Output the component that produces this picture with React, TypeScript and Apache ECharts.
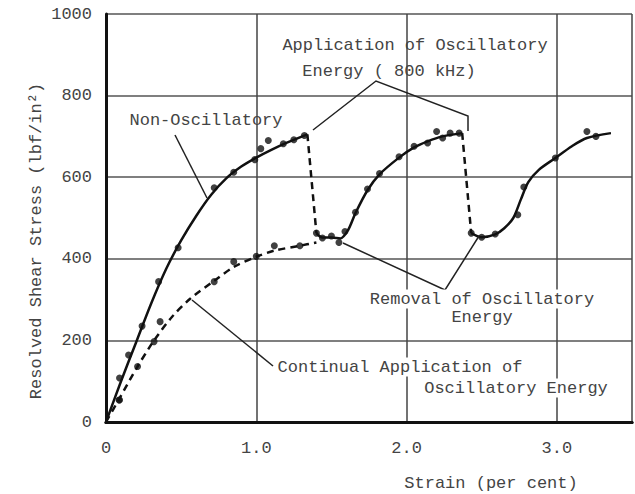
import React, { useEffect, useRef } from "react";
import * as echarts from "echarts";

// Non-oscillatory loading curve (strain %, stress lbf/in^2)
const nonOscCurve = [
  [0, 0], [0.1, 100], [0.2, 195], [0.3, 290], [0.4, 375], [0.5, 445], [0.6, 505], [0.7, 557],
  [0.8, 597], [0.9, 626], [1.0, 648], [1.1, 667], [1.2, 684], [1.34, 705],
];
const nonOscPoints = [
  [0.087, 54], [0.09, 108], [0.15, 164], [0.24, 235], [0.35, 344], [0.48, 427], [0.72, 574],
  [0.85, 612], [0.99, 643], [1.03, 670], [1.08, 690], [1.18, 682], [1.25, 692], [1.32, 702],
];
// Drop when oscillatory energy applied
const drop1 = [[1.34, 705], [1.4, 463]];
// Recovery after removal of energy (first)
const recovery1Curve = [
  [1.4, 463], [1.44, 452], [1.5, 452], [1.56, 450], [1.61, 470], [1.66, 512], [1.74, 568],
  [1.82, 607], [1.95, 648], [2.05, 673], [2.14, 688], [2.24, 700], [2.37, 708],
];
const recovery1Points = [
  [1.4, 463], [1.44, 451], [1.5, 456], [1.55, 440], [1.59, 467], [1.66, 514], [1.74, 571],
  [1.82, 609], [1.95, 650], [2.05, 676], [2.14, 684], [2.2, 712], [2.24, 696], [2.29, 708], [2.35, 708],
];
const drop2 = [[2.37, 708], [2.43, 463]];
const recovery2Curve = [
  [2.43, 463], [2.5, 453], [2.59, 460], [2.65, 475], [2.71, 500], [2.76, 545], [2.81, 588],
  [2.88, 618], [2.99, 647], [3.1, 676], [3.2, 696], [3.36, 708],
];
const recovery2Points = [
  [2.43, 463], [2.5, 453], [2.59, 461], [2.74, 508], [2.78, 576], [2.99, 647], [3.2, 712], [3.26, 700],
];
// Continual application of oscillatory energy
const continualCurve = [
  [0, 0], [0.09, 58], [0.21, 136], [0.32, 200], [0.44, 258], [0.56, 302], [0.72, 346],
  [0.85, 380], [1.0, 405], [1.12, 420], [1.29, 432], [1.4, 440],
];
const continualPoints = [
  [0.09, 54], [0.21, 136], [0.32, 197], [0.36, 246], [0.72, 344], [0.85, 393], [1.0, 406], [1.12, 432], [1.29, 432],
];

const yTicks = [0, 200, 400, 600, 800, 1000];
const xTickLabels = ["0", "1.0", "2.0", "3.0"];

const FONT = '"Liberation Mono", "DejaVu Sans Mono", monospace';
const INK = "#111";
const TXT = "#444";

export default function App() {
  const ref = useRef<HTMLDivElement>(null);
  useEffect(() => {
    if (!ref.current) return;
    const chart = echarts.init(ref.current, null, { renderer: "svg" });
    const solid = (data: number[][]) => ({
      type: "line", data, smooth: 0.3, showSymbol: false, symbol: "none",
      lineStyle: { color: INK, width: 2.5 }, z: 3,
    });
    const dashed = (data: number[][]) => ({
      type: "line", data, smooth: 0.3, showSymbol: false, symbol: "none",
      lineStyle: { color: INK, width: 2.5, type: [7, 5] }, z: 3,
    });
    const dots = (data: number[][]) => ({
      type: "scatter", data, symbolSize: 7, itemStyle: { color: INK }, z: 4,
    });
    const txt = (text: string, x: number, y: number, bg = false) => ({
      type: "text", x, y, z: 10,
      style: {
        text, align: "center", verticalAlign: "middle", fontSize: 17, fontFamily: FONT, fill: TXT,
        backgroundColor: bg ? "#fff" : undefined, padding: bg ? [1, 2] : 0,
      },
    });
    const leader = (points: number[][]) => ({
      type: "polyline", z: 9, shape: { points }, style: { stroke: "#222", lineWidth: 1.5, fill: null },
    });
    chart.setOption({
      animation: false,
      backgroundColor: "#fff",
      grid: { left: 106, top: 14, bottom: 72, right: -6.5 },
      xAxis: [
        {
          type: "value", min: 0, max: 3.5, interval: 1,
          axisLine: { show: true, onZero: false, lineStyle: { color: INK, width: 3 } },
          axisTick: { show: false },
          splitLine: { show: true, lineStyle: { color: "#444", width: 1.5 } },
          axisLabel: {
            margin: 18, fontSize: 17, fontFamily: FONT, color: TXT,
            formatter: (v: number) => (Number.isInteger(v) && v >= 0 && v <= 3 ? xTickLabels[v] : ""),
          },
        },
        {
          type: "value", min: 0, max: 3.5, position: "top",
          axisLine: { show: true, lineStyle: { color: INK, width: 3 } },
          axisTick: { show: false }, axisLabel: { show: false }, splitLine: { show: false },
        },
      ],
      yAxis: {
        type: "value", min: yTicks[0], max: yTicks[yTicks.length - 1], interval: 200,
        axisLine: { show: true, lineStyle: { color: INK, width: 3 } },
        axisTick: { show: false },
        splitLine: { show: true, lineStyle: { color: "#555", width: 1.5 } },
        axisLabel: {
          margin: 14, fontSize: 17, fontFamily: FONT, color: TXT,
          formatter: (v: number) => String(v),
        },
      },
      series: [
        solid(nonOscCurve), dots(nonOscPoints),
        dashed(drop1),
        solid(recovery1Curve), dots(recovery1Points),
        dashed(drop2),
        solid(recovery2Curve), dots(recovery2Points),
        dashed(continualCurve), dots(continualPoints),
      ],
      graphic: [
        leader([[175, 135], [207, 198]]),
        leader([[313, 130], [376, 81], [468, 116], [468, 131]]),
        leader([[343, 243], [445, 290], [479, 236]]),
        leader([[192, 300], [273, 366]]),
        txt("Non-Oscillatory", 206, 120),
        txt("Application of Oscillatory", 415, 45),
        txt("Energy ( 800 kHz)", 389, 71),
        txt("Removal of Oscillatory", 482, 299, true),
        txt("Energy", 482, 317, true),
        txt("Continual Application of", 400, 367, true),
        txt("Oscillatory Energy", 516, 388, true),
        txt("Strain (per cent)", 491, 483),
        {
          type: "text", x: 36, y: 241, rotation: Math.PI / 2, z: 10,
          style: {
            text: "Resolved Shear Stress (lbf/in²)", align: "center", verticalAlign: "middle",
            fontSize: 17, fontFamily: FONT, fill: TXT,
          },
        },
      ],
    });
    return () => chart.dispose();
  }, []);
  return (
    <div
      ref={ref}
      style={{ position: "fixed", left: 0, top: 0, width: 635, height: 494, background: "#fff" }}
    />
  );
}
